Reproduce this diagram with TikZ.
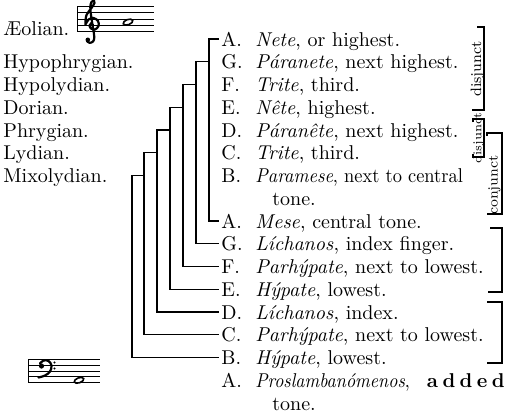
\documentclass[tikz,border=0pt]{standalone}
\usepackage{fontspec}
\begin{document}
\begin{tikzpicture}[x=0.5pt,y=-0.5pt,
  mode/.style={anchor=base west,inner sep=0pt,font=\fontsize{10}{12}\selectfont},
  ltr/.style={anchor=base west,inner xsep=1pt,inner ysep=0pt,text height=7pt,text depth=0pt,font=\fontsize{10}{12}\selectfont},
  nm/.style={anchor=base west,inner sep=0pt,font=\fontsize{10}{12}\selectfont},
  ln/.style={line width=0.55pt},
  staff/.style={line width=0.45pt},
  rlbl/.style={rotate=90,inner sep=0pt},
  clef/.style={line width=1.1pt,line cap=round}]
\useasboundingbox (0,0) rectangle (507,412);

% rows of the scale
\foreach \i/\l/\nmx/\rest in {
  0/A/Nete/{, or highest.},
  1/G/Páranete/{, next highest.},
  2/F/Trite/{, third.},
  3/E/Nête/{, highest.},
  4/D/Páranête/{, next highest.},
  5/C/Trite/{, third.},
  8/A/Mese/{, central tone.},
  9/G/Líchanos/{, index finger.},
  10/F/Parhýpate/{, next to lowest.},
  11/E/Hýpate/{, lowest.},
  12/D/Líchanos/{, index.},
  13/C/Parhýpate/{, next to lowest.},
  14/B/Hýpate/{, lowest.}}{
  \pgfmathsetmacro\yy{46+22.75*\i}
  \node[ltr] (r\i) at (219,\yy) {\l.};
  \node[nm] (n\i) at (255,\yy) {\textit{\nmx}\rest};
}
\node[ltr] (r6) at (219,{46+22.75*6}) {B.};
\node[nm,xscale=0.92] (n6) at (255,{46+22.75*6}) {\textit{Paramese}, next to central};
\node[nm] (t7) at (272,{46+22.75*7}) {tone.};
\node[ltr] (r15) at (219,{46+22.75*15}) {A.};
\node[nm,xscale=0.9] (n15) at (255,{46+22.75*15}) {\textit{Proslambanómenos},};
\node[nm,anchor=base east] (add) at (505,{46+22.75*15}) {\bfseries a\kern2.2pt d\kern2.2pt d\kern2.2pt e\kern2.2pt d};
\node[nm] (t16) at (272,{46+22.75*16}) {tone.};

% mode names
\node[mode] (m0) at (3,35) {Æolian.};
\foreach \i/\m in {1/Hypophrygian,2/Hypolydian,3/Dorian,4/Phrygian,5/Lydian,6/Mixolydian}{
  \pgfmathsetmacro\yy{46+22.75*\i}
  \node[mode] (m\i) at (3,\yy) {\m.};
}

% bracket columns
\coordinate (X1) at (209,0);
\coordinate (X2) at (196,0);
\coordinate (X3) at (183,0);
\coordinate (X4) at (170,0);
\coordinate (X5) at (157,0);
\coordinate (X6) at (144,0);
\coordinate (X7) at (132,0);
\draw[ln] (r0.west) -- (r0.west -| X1) |- (r8.west);
\draw[ln] (r1.west -| X1) -- (r1.west -| X2) |- (r9.west);
\draw[ln] (r2.west -| X2) -- (r2.west -| X3) |- (r10.west);
\draw[ln] (r3.west -| X3) -- (r3.west -| X4) |- (r11.west);
\draw[ln] (r4.west -| X4) -- (r4.west -| X5) |- (r12.west);
\draw[ln] (r5.west -| X5) -- (r5.west -| X6) |- (r13.west);
\draw[ln] (r6.west -| X6) -- (r6.west -| X7) |- (r14.west);

% right brackets
\draw[ln] (477,27) -- (484,27) -- (484,110) -- (472,110);
\node[rlbl,font=\fontsize{7.5}{9}\selectfont] (dj1) at (477.5,69) {disjunct};
\draw[ln] (473,122) -- (473,119) -- (484,119) -- (484,157) -- (473,157) -- (473,154);
\node[rlbl,font=\fontsize{6}{7}\selectfont] (dj2) at (478.5,138) {disjunct};
\draw[ln] (487,136) -- (487,133) -- (502,133) -- (502,214) -- (487,214);
\node[rlbl,font=\fontsize{7}{8}\selectfont] (cj) at (494.5,185) {conjunct};
\draw[ln] (490,228) -- (502,228) -- (502,292) -- (488,292);
\draw[ln] (487,302) -- (502,302) -- (502,363) -- (487,363);

% top staff (treble)
\foreach \s in {0,...,4}{
  \draw[staff] (77,{6.5+6.25*\s}) -- (154,{6.5+6.25*\s});
}
\draw[staff] (77,6.5) -- (77,31.5);
\draw[clef] plot[smooth,tension=0.6] coordinates {(93,25) (91,23.5) (89.5,25.5) (91,28.5) (95,29.5) (98.5,26) (98,21) (93.5,18) (88.5,19.5) (85.5,24) (86.5,15) (91.5,8) (94.5,3) (94,0.8) (91.5,2) (90.3,7) (91,15) (93,28) (94.3,37) (93,41.5) (89.5,42.8) (87,41)};
\fill (87.8,39.8) circle (2.3);
\begin{scope}[shift={(128,22.1)},rotate=20]
  \draw[line width=0.8pt] (0,0) ellipse [x radius=5,y radius=2.6];
\end{scope}

% bottom staff (bass)
\foreach \s in {0,...,4}{
  \draw[staff] (28,{359.5+5.8*\s}) -- (100,{359.5+5.8*\s});
}
\draw[staff] (28,359.5) -- (28,382.7);
\fill (41.5,366) circle (2.6);
\draw[clef] plot[smooth,tension=0.6] coordinates {(40,363.5) (43.5,360.5) (48.5,361) (51.5,365.5) (50,371.5) (45,375.5) (38.5,377.5)};
\fill (54.5,362.5) circle (1.1);
\fill (54.5,368.5) circle (1.1);
\begin{scope}[shift={(79,380.3)},rotate=20]
  \draw[line width=0.8pt] (0,0) ellipse [x radius=5,y radius=2.5];
\end{scope}
\end{tikzpicture}
\end{document}
